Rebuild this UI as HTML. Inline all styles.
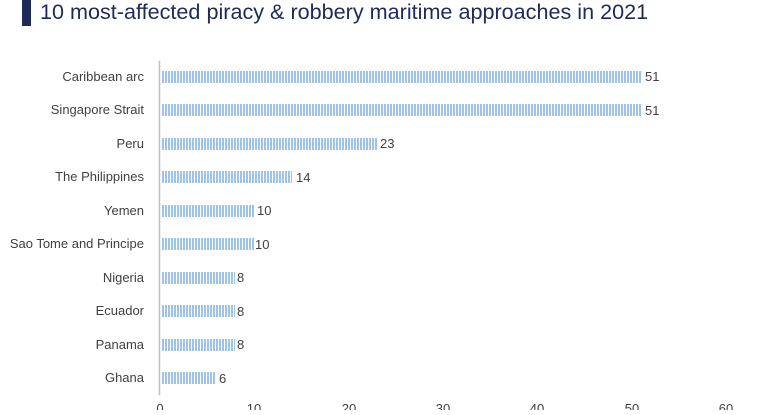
<!DOCTYPE html>
<html><head><meta charset="utf-8"><style>
body{margin:0;background:#fff;width:770px;height:410px;overflow:hidden;font-family:"Liberation Sans",sans-serif}
</style></head><body>
<svg width="770" height="410" xmlns="http://www.w3.org/2000/svg">
<defs><pattern id="p" width="3" height="12" patternUnits="userSpaceOnUse"><rect width="3" height="12" fill="#fff"/><rect width="2" height="12" fill="#9dc3e6"/></pattern></defs>
<rect x="22" y="0" width="9" height="26" fill="#1f2a5a"/>
<text x="40" y="19" font-size="21.6" fill="#1f2a5a">10 most-affected piracy &amp; robbery maritime approaches in 2021</text>
<line x1="159.5" y1="61" x2="159.5" y2="395" stroke="#bfbfbf" stroke-width="1.5"/>
<g font-size="13" fill="#404040">
<g text-anchor="end">
<text x="144" y="81">Caribbean arc</text>
<text x="144" y="114">Singapore Strait</text>
<text x="144" y="148">Peru</text>
<text x="144" y="181">The Philippines</text>
<text x="144" y="215">Yemen</text>
<text x="144" y="248">Sao Tome and Principe</text>
<text x="144" y="282">Nigeria</text>
<text x="144" y="315">Ecuador</text>
<text x="144" y="349">Panama</text>
<text x="144" y="382">Ghana</text>
</g>
<rect x="161" y="71" width="480" height="12" fill="url(#p)"/><text x="645" y="81">51</text>
<rect x="161" y="104" width="480" height="12" fill="url(#p)"/><text x="645" y="115">51</text>
<rect x="161" y="138" width="216" height="12" fill="url(#p)"/><text x="380" y="148">23</text>
<rect x="161" y="171" width="131" height="12" fill="url(#p)"/><text x="296" y="182">14</text>
<rect x="161" y="205" width="93" height="12" fill="url(#p)"/><text x="257" y="215">10</text>
<rect x="161" y="238" width="93" height="12" fill="url(#p)"/><text x="255" y="249">10</text>
<rect x="161" y="272" width="74" height="12" fill="url(#p)"/><text x="237" y="282">8</text>
<rect x="161" y="305" width="74" height="12" fill="url(#p)"/><text x="237" y="316">8</text>
<rect x="161" y="339" width="74" height="12" fill="url(#p)"/><text x="237" y="349">8</text>
<rect x="161" y="372" width="55" height="12" fill="url(#p)"/><text x="219" y="383">6</text>
<g text-anchor="middle">
<text x="160" y="413">0</text><text x="254" y="413">10</text><text x="349" y="413">20</text><text x="443" y="413">30</text><text x="537" y="413">40</text><text x="632" y="413">50</text><text x="726" y="413">60</text>
</g>
</g>
</svg>
</body></html>
